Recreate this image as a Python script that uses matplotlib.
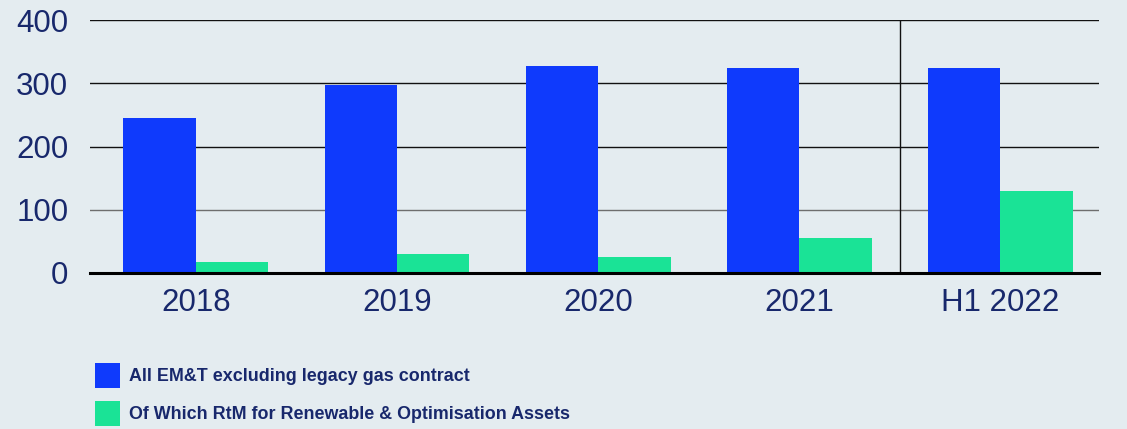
import matplotlib
matplotlib.use("Agg")
import matplotlib.pyplot as plt
import numpy as np

categories = ["2018", "2019", "2020", "2021", "H1 2022"]
all_emt = [245, 297, 327, 325, 324]
rtm_renew = [17, 30, 25, 55, 130]
series_labels = ["All EM&T excluding legacy gas contract",
                 "Of Which RtM for Renewable & Optimisation Assets"]
y_ticks = [0, 100, 200, 300, 400]

BG = "#e4ecf0"
BLUE = "#0f3afc"
GREEN = "#1ae396"
NAVY = "#18286c"

plt.rcParams['font.family'] = ['Liberation Sans', 'DejaVu Sans']

fig = plt.figure(figsize=(11.27, 4.29), dpi=100, facecolor=BG)
ax = fig.add_axes([90.3/1127, 1-272.7/429, (1099-90.3)/1127, (272.7-20.3)/429])
ax.set_facecolor(BG)

x = np.arange(len(categories))
w = 0.36
b1 = ax.bar(x - w/2, all_emt, width=w, color=BLUE, label=series_labels[0], zorder=3)
b2 = ax.bar(x + w/2, rtm_renew, width=w, color=GREEN, label=series_labels[1], zorder=3)

ax.set_xlim(-0.525, len(categories) - 1 + 0.49)
ax.set_ylim(0, 400)
ax.set_yticks(y_ticks)
ax.set_yticklabels([str(v) for v in y_ticks])
ax.set_xticks(x)
ax.set_xticklabels(categories)

for v in y_ticks[1:]:
    ax.axhline(v, color="#6e6e6e" if v == 100 else "#111111", lw=1.0, zorder=1)
ax.axvline(len(categories) - 1.5, color="#111111", lw=1.0, zorder=2)

for s in ["top", "right", "left"]:
    ax.spines[s].set_visible(False)
ax.spines["bottom"].set_linewidth(2.2)
ax.spines["bottom"].set_color("#000000")
ax.spines["bottom"].set_zorder(4)

ax.tick_params(axis="both", length=0, labelsize=22.5, colors=NAVY)
ax.tick_params(axis="y", pad=15.8)
ax.tick_params(axis="x", pad=11)

fs = 12.9
leg = fig.legend(handles=[b1, b2], loc="upper left",
                 bbox_to_anchor=(95/1127, 1-363.3/429),
                 frameon=False, borderpad=0, borderaxespad=0,
                 handlelength=1.385, handleheight=1.75, handletextpad=0.52,
                 labelspacing=0.72,
                 prop={"family": "Liberation Sans", "weight": "bold", "size": fs})
for t in leg.get_texts():
    t.set_color(NAVY)

fig.savefig("out.png", dpi=100, facecolor=BG)
